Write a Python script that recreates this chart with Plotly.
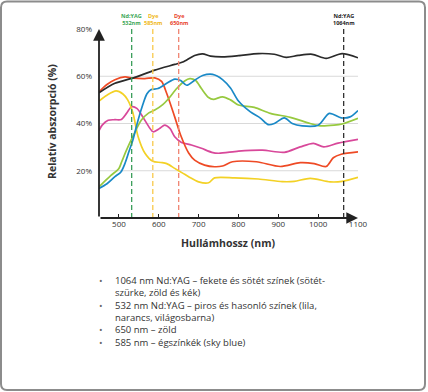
import plotly.graph_objects as go

# ---------------- data ----------------
black_x = [450, 490, 540, 590, 640, 660, 690, 710, 730, 760, 800, 850, 890, 920, 950, 985, 1020, 1060, 1100]
black_y = [53, 57, 59.5, 62.6, 65, 66, 68.8, 69.5, 68.5, 68.2, 68.7, 69.6, 69.3, 68, 68.8, 69.3, 67.6, 69.6, 67.8]

red_x = [450, 470, 490, 515, 535, 565, 590, 607, 620, 640, 655, 675, 690, 715, 740, 760, 785, 845, 905, 955, 990, 1020, 1038, 1058, 1100]
red_y = [53.4, 56.5, 58.5, 59.7, 59.2, 59, 59.3, 57.8, 52.7, 42.8, 35, 27.5, 24.5, 22.4, 21.7, 22, 23.8, 23.8, 21.8, 23.4, 23, 21.8, 25.5, 27, 28]

yellow_x = [450, 470, 493, 510, 522, 535, 548, 565, 585, 605, 620, 640, 660, 675, 700, 725, 740, 790, 850, 910, 940, 980, 1030, 1060, 1100]
yellow_y = [49.5, 52, 53.8, 52.5, 50, 44.5, 34.5, 27.5, 24, 23.5, 23, 21, 19, 17.5, 15.3, 14.9, 17, 17, 16.5, 15.4, 15.5, 16.8, 15.3, 15.5, 17.2]

blue_x = [450, 470, 490, 505, 515, 525, 535, 548, 560, 570, 580, 598, 620, 640, 655, 670, 690, 710, 735, 760, 780, 800, 830, 855, 875, 890, 915, 935, 960, 1000, 1028, 1058, 1080, 1100]
blue_y = [12.5, 14.5, 17.5, 19.5, 23, 28, 33, 41.4, 48, 52.5, 54.3, 54.8, 57, 58.8, 58.2, 56.2, 58.3, 60.3, 60.8, 58.6, 55, 49.5, 44.9, 42.3, 39.5, 40, 42.4, 40, 39, 39.3, 44.3, 42.4, 42.8, 45.5]

green_x = [450, 480, 500, 507, 519, 535, 556, 575, 590, 610, 625, 645, 665, 678, 692, 707, 725, 737, 760, 780, 800, 840, 880, 930, 980, 1005, 1040, 1060, 1100]
green_y = [13.2, 18, 21, 23.8, 28.7, 34.5, 41.4, 44.5, 45.7, 48, 50.6, 54.8, 58, 59, 58.3, 54.8, 51, 50.2, 51.3, 50, 47.8, 46.8, 44.3, 42.6, 40, 39, 39.3, 39.8, 42.2]

magenta_x = [450, 458, 473, 490, 506, 519, 532, 545, 565, 586, 602, 615, 628, 640, 657, 682, 707, 733, 750, 800, 860, 915, 955, 988, 1014, 1050, 1100]
magenta_y = [37, 39.3, 41.4, 41.6, 41.7, 44.3, 47.1, 46.4, 41.4, 36.5, 37.9, 39.3, 37.9, 34.4, 32, 30.9, 29.5, 27.8, 27.4, 28.3, 28.7, 27.8, 30.1, 31.6, 30.1, 31.7, 33.3]

x_ticks = [500, 600, 700, 800, 900, 1000, 1100]
y_ticks = [20, 40, 60, 80]
y_tick_labels = ["20%", "40%", "60%", "80%"]

laser_nm = [532, 585, 650, 1064]
laser_names = ["Nd:YAG", "Dye", "Dye", "Nd:YAG"]
laser_labels = ["532nm", "585nm", "650nm", "1064nm"]

bullet_lines = [
    ("•", "1064 nm Nd:YAG – fekete és sötét színek (sötét-"),
    ("", "szürke, zöld és kék)"),
    ("•", "532 nm Nd:YAG – piros és hasonló színek (lila,"),
    ("", "narancs, világosbarna)"),
    ("•", "650 nm – zöld"),
    ("•", "585 nm – égszínkék (sky blue)"),
]

# ---------------- styles ----------------
W, H = 428, 392
L, R, T, B = 99, 70, 29, 174
PW, PH = W - L - R, H - T - B
X0, X1 = 450, 1100
Y0, Y1 = 0, 80


def px(xp):
    return (xp - L) / PW


def py(yp):
    return (H - B - yp) / PH


FONT = "Open Sans"
series = [
    (magenta_x, magenta_y, "#d8489a"),
    (yellow_x, yellow_y, "#f3d125"),
    (red_x, red_y, "#ee4a25"),
    (green_x, green_y, "#97c93f"),
    (blue_x, blue_y, "#1a89c7"),
    (black_x, black_y, "#2a2a2a"),
]
laser_line_colors = ["#3a9e5a", "#f8c94a", "#f08472", "#333333"]
laser_text_colors = ["#3aa655", "#f0b820", "#e8452c", "#222222"]

fig = go.Figure()

for xs, ys, c in series:
    fig.add_trace(go.Scatter(x=xs, y=ys, mode="lines",
                             line=dict(color=c, width=1.7, shape="spline", smoothing=0.8),
                             hoverinfo="skip", showlegend=False))

shapes = []
# gridlines
for v in y_ticks[:-1]:
    shapes.append(dict(type="line", xref="x", yref="y", x0=X0, x1=X1, y0=v, y1=v,
                       line=dict(color="#d9d9d9", width=1), layer="below"))
# laser dashed lines
for nm, c in zip(laser_nm, laser_line_colors):
    shapes.append(dict(type="line", xref="x", yref="y", x0=nm, x1=nm, y0=0, y1=80.5,
                       line=dict(color=c, width=1.3, dash="5px,3px"), layer="above"))

# card border (rounded rect), paper coords
x_l, x_r = px(1), px(425)
y_t, y_b = py(1.5), py(390)
rx, ry = 6 / PW, 6 / PH
path = (f"M {x_l+rx},{y_t} L {x_r-rx},{y_t} Q {x_r},{y_t} {x_r},{y_t-ry} "
        f"L {x_r},{y_b+ry} Q {x_r},{y_b} {x_r-rx},{y_b} "
        f"L {x_l+rx},{y_b} Q {x_l},{y_b} {x_l},{y_b+ry} "
        f"L {x_l},{y_t-ry} Q {x_l},{y_t} {x_l+rx},{y_t} Z")
shapes.append(dict(type="path", xref="paper", yref="paper", path=path,
                   line=dict(color="#8c8c8c", width=2), fillcolor="rgba(0,0,0,0)"))

annotations = []
# axes with arrows
annotations.append(dict(x=X0, y=Y1, ax=X0, ay=Y0, xref="x", yref="y", axref="x", ayref="y",
                        showarrow=True, arrowhead=2, arrowsize=1.3, arrowwidth=1.8,
                        arrowcolor="#222222", text="", standoff=0))
annotations.append(dict(x=X1, y=Y0, ax=X0, ay=Y0, xref="x", yref="y", axref="x", ayref="y",
                        showarrow=True, arrowhead=2, arrowsize=1.3, arrowwidth=1.8,
                        arrowcolor="#222222", text="", standoff=0))
# laser labels
for nm, n, lb, c in zip(laser_nm, laser_names, laser_labels, laser_text_colors):
    annotations.append(dict(x=nm, y=py(20), xref="x", yref="paper", text=f"<b>{n}<br>{lb}</b>",
                            showarrow=False, font=dict(family=FONT, size=5.5, color=c),
                            xanchor="center", yanchor="middle", align="center"))
# axis titles
annotations.append(dict(x=px(52), y=py(122), xref="paper", yref="paper",
                        text="<b>Relatív abszorpció (%)</b>", textangle=-90, showarrow=False,
                        font=dict(family=FONT, size=10.5, color="#333333"),
                        xanchor="center", yanchor="middle"))
annotations.append(dict(x=px(228), y=py(243), xref="paper", yref="paper",
                        text="<b>Hullámhossz (nm)</b>", showarrow=False,
                        font=dict(family=FONT, size=10.5, color="#333333"),
                        xanchor="center", yanchor="middle"))
# bullet list: one text block + one bullet column
LIST_FS = 9.5
bullet_col = "<br>".join((b if b else "&nbsp;") for b, _ in bullet_lines)
text_col = "<br>".join(t for _, t in bullet_lines)
list_top = 271.5
annotations.append(dict(x=px(101), y=py(list_top), xref="paper", yref="paper", text=bullet_col,
                        showarrow=False, font=dict(family=FONT, size=LIST_FS, color="#666666"),
                        xanchor="center", yanchor="top", align="center"))
annotations.append(dict(x=px(113), y=py(list_top), xref="paper", yref="paper", text=text_col,
                        showarrow=False, font=dict(family=FONT, size=LIST_FS, color="#333333"),
                        xanchor="left", yanchor="top", align="left"))

fig.update_layout(
    width=W, height=H,
    margin=dict(l=L, r=R, t=T, b=B, pad=0),
    paper_bgcolor="white", plot_bgcolor="white",
    shapes=shapes, annotations=annotations,
    xaxis=dict(range=[X0, X1], tickvals=x_ticks, ticktext=[str(v) for v in x_ticks],
               ticks="inside", ticklen=4, tickwidth=1.2, tickcolor="#222222",
               showgrid=False, zeroline=False, showline=False,
               tickfont=dict(family=FONT, size=8, color="#333333")),
    yaxis=dict(range=[Y0, Y1], tickvals=y_ticks, ticktext=y_tick_labels,
               showgrid=False, zeroline=False, showline=False, ticks="",
               ticklabelstandoff=6,
               tickfont=dict(family=FONT, size=8, color="#333333")),
)

fig.write_html("out.html", config={"displayModeBar": False},
               post_script="document.body.style.margin='0';")
